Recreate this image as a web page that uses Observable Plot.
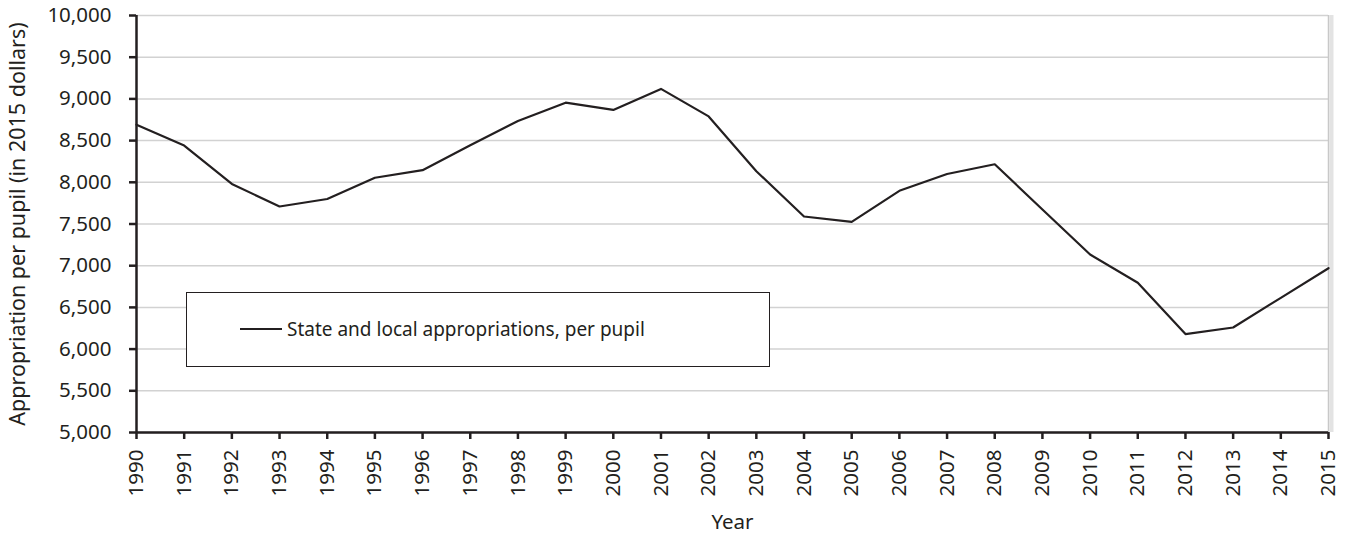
<!DOCTYPE html>
<html><head><meta charset="utf-8">
<script src="https://cdn.jsdelivr.net/npm/d3@7"></script>
<script src="https://cdn.jsdelivr.net/npm/@observablehq/plot@0.6"></script>
<style>
body{margin:0;background:#fff;}
#wrap{position:relative;width:1353px;height:535px;font-family:"Noto Sans",sans-serif;}
#legend{position:absolute;left:186px;top:292px;width:584px;height:75px;border:1.5px solid #231f20;background:#fff;box-sizing:border-box;}
#legend .sw{position:absolute;left:53px;top:35px;width:42px;height:0;border-top:2.2px solid #231f20;}
#legend .tx{position:absolute;left:100px;top:0;line-height:72px;font-size:19px;color:#231f20;white-space:nowrap;}
</style></head>
<body><div id="wrap"></div>
<script>
const years = [1990,1991,1992,1993,1994,1995,1996,1997,1998,1999,2000,2001,2002,2003,2004,2005,2006,2007,2008,2009,2010,2011,2012,2013,2014,2015];
const values = [8690,8440,7980,7710,7800,8055,8145,8445,8735,8955,8868,9120,8790,8133,7590,7526,7898,8100,8216,7674,7134,6795,6180,6259,6615,6970];
const yTicks = [5000,5500,6000,6500,7000,7500,8000,8500,9000,9500,10000];
const seriesName = "State and local appropriations, per pupil";
const yLabel = "Appropriation per pupil (in 2015 dollars)";
const xLabel = "Year";

const data = years.map((y,i)=>({year:y, value:values[i]}));
const ink = "#231f20";

const chart = Plot.plot({
  width: 1353, height: 535,
  marginLeft: 136, marginRight: 25, marginTop: 15, marginBottom: 103,
  style: {fontFamily: '"Noto Sans", sans-serif', fontSize: "20px", color: ink, background: "#fff"},
  x: {domain: [1990, 2015]},
  y: {domain: [5000, 10000]},
  marks: [
    Plot.gridY(yTicks, {stroke: "#d2d2d2", strokeOpacity: 1, strokeWidth: 1.5}),
    Plot.ruleX([2015], {stroke: "#b0b0b0", strokeWidth: 4, dx: 3, strokeOpacity: 0.35}),
    Plot.ruleX([2015], {stroke: "#c8c8c8", strokeWidth: 1.5}),
    Plot.line(data, {x: "year", y: "value", stroke: ink, strokeWidth: 2.2}),
    Plot.ruleX([1990], {stroke: ink, strokeWidth: 2.5}),
    Plot.ruleY([5000], {stroke: ink, strokeWidth: 2.5}),
    Plot.axisY({ticks: yTicks, tickFormat: d3.format(","), tickSize: 7, tickPadding: 18, fontSize: 20.5, stroke: ink, strokeWidth: 2.5, label: null}),
    Plot.text([yLabel], {frameAnchor: "left", textAnchor: "middle", lineAnchor: "middle", dx: -118, rotate: -90, fontSize: 21.5, fill: ink}),
    Plot.axisX({ticks: years, tickFormat: d => String(d), tickRotate: -90, tickSize: 7, tickPadding: 10, fontSize: 20.5, stroke: ink, strokeWidth: 2.5,
      label: xLabel, labelAnchor: "center", labelArrow: "none", labelOffset: 96})
  ]
});
const wrap = document.getElementById("wrap");
wrap.appendChild(chart);
const lg = document.createElement("div");
lg.id = "legend";
lg.innerHTML = '<div class="sw"></div><div class="tx"></div>';
lg.querySelector(".tx").textContent = seriesName;
wrap.appendChild(lg);
</script>
</body></html>
